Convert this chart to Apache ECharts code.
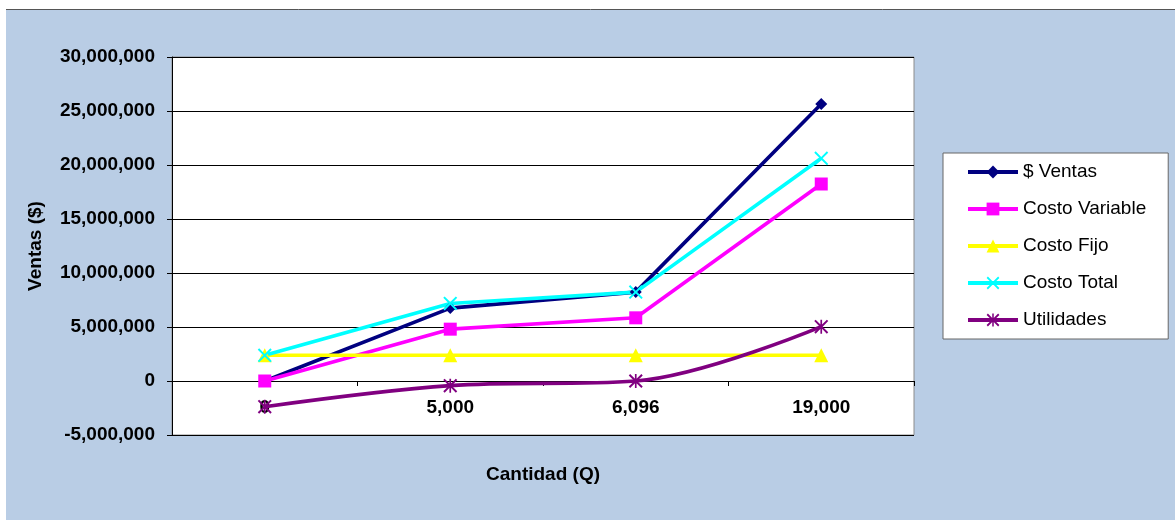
<!DOCTYPE html>
<html>
<head>
<meta charset="utf-8">
<script src="https://cdn.jsdelivr.net/npm/echarts@6/dist/echarts.min.js"></script>
<style>
  html, body { margin: 0; padding: 0; background: #ffffff; }
  #chart { width: 1175px; height: 520px; }
</style>
</head>
<body>
<div id="chart"></div>
<script>
// Punto de equilibrio: cantidades y montos en pesos
const cantidades = ['0', '5,000', '6,096', '19,000'];
const ventas = [0, 6750000, 8230000, 25650000];
const costoVariable = [0, 4800000, 5850000, 18240000];
const costoFijo = [2380000, 2380000, 2380000, 2380000];
const costoTotal = [2380000, 7180000, 8230000, 20620000];
const utilidades = [-2380000, -430000, 0, 5030000];

const FONT = '"Liberation Sans", Arial, sans-serif';

// marker shapes: an "x" and an asterisk built as filled outlines
const xPath = 'path://M0,1 L1,0 L5,4 L9,0 L10,1 L6,5 L10,9 L9,10 L5,6 L1,10 L0,9 L4,5 Z';
const starPath = 'path://M0,1 L1,0 L5,4 L9,0 L10,1 L6,5 L10,9 L9,10 L5,6 L1,10 L0,9 L4,5 Z M4.4,0 L5.6,0 L5.6,10 L4.4,10 Z';

function fmt(v) {
  return Number(v).toLocaleString('en-US');
}

function lineSeries(name, data, color, symbol, size, extra) {
  return Object.assign({
    name: name,
    type: 'line',
    data: data,
    symbol: symbol,
    symbolSize: size,
    showAllSymbol: true,
    lineStyle: { color: color, width: 3.6 },
    itemStyle: { color: color, borderWidth: 0 },
    emphasis: { disabled: true },
    animation: false
  }, extra || {});
}

const chart = echarts.init(document.getElementById('chart'), null, { renderer: 'canvas' });

chart.setOption({
  backgroundColor: '#ffffff',
  textStyle: { fontFamily: FONT },
  graphic: [
    {
      type: 'rect', z: -10, silent: true,
      shape: { x: 6, y: 10, width: 1169, height: 510 },
      style: { fill: '#b9cde5' }
    },
    {
      type: 'line', z: -9, silent: true,
      shape: { x1: 6, y1: 9.5, x2: 1175, y2: 9.5 },
      style: { stroke: '#555555', lineWidth: 1 }
    }
  ],
  grid: {
    left: 172, right: 261, top: 57, bottom: 85,
    containLabel: false,
    outerBoundsMode: 'none',
    show: true,
    backgroundColor: '#ffffff',
    borderColor: '#8c8c8c',
    borderWidth: 1
  },
  legend: {
    orient: 'vertical',
    left: 943, top: 153,
    padding: [9, 22, 9, 23],
    itemGap: 17,
    itemWidth: 50,
    itemHeight: 16,
    lineStyle: { width: 4 },
    backgroundColor: '#ffffff',
    borderColor: '#666666',
    borderWidth: 1,
    textStyle: { fontFamily: FONT, fontSize: 19, color: '#000000', lineHeight: 20, padding: [0, 0, 0, 0] },
    data: ['$ Ventas', 'Costo Variable', 'Costo Fijo', 'Costo Total', 'Utilidades']
  },
  xAxis: {
    type: 'category',
    data: cantidades,
    boundaryGap: true,
    name: 'Cantidad (Q)',
    nameLocation: 'middle',
    nameGap: 30,
    nameMoveOverlap: false,
    nameTextStyle: { fontFamily: FONT, fontSize: 19, fontWeight: 'bold', color: '#000000' },
    axisLine: { onZero: true, lineStyle: { color: '#000000', width: 1 } },
    axisTick: { show: true, length: 5, lineStyle: { color: '#000000' } },
    axisLabel: { margin: -37, fontFamily: FONT, fontSize: 19, fontWeight: 'bold', color: '#000000' },
    splitLine: { show: false }
  },
  yAxis: {
    type: 'value',
    min: -5000000,
    max: 30000000,
    interval: 5000000,
    name: 'Ventas ($)',
    nameLocation: 'middle',
    nameGap: 127,
    nameMoveOverlap: false,
    nameTextStyle: { fontFamily: FONT, fontSize: 19, fontWeight: 'bold', color: '#000000' },
    axisLine: { show: true, lineStyle: { color: '#000000', width: 1 } },
    axisTick: { show: true, length: 5, lineStyle: { color: '#000000' } },
    axisLabel: { margin: 17, fontFamily: FONT, fontSize: 19, fontWeight: 'bold', color: '#000000', formatter: fmt },
    splitLine: { show: true, lineStyle: { color: '#000000', width: 1 } }
  },
  series: [
    lineSeries('$ Ventas', ventas, '#000080', 'diamond', 12),
    lineSeries('Costo Variable', costoVariable, '#ff00ff', 'rect', 13),
    lineSeries('Costo Fijo', costoFijo, '#ffff00', 'triangle', 14),
    lineSeries('Costo Total', costoTotal, '#00ffff', xPath, 14),
    lineSeries('Utilidades', utilidades, '#800080', starPath, 14, { smooth: 0.35 })
  ]
});
</script>
</body>
</html>
